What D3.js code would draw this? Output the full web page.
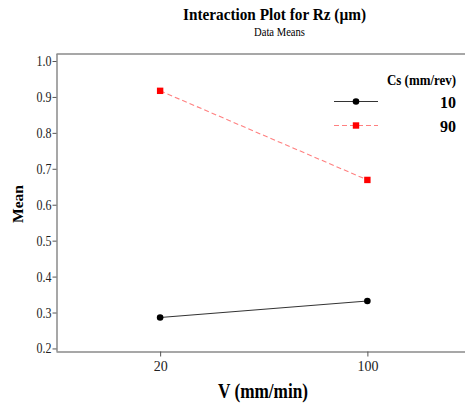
<!DOCTYPE html>
<html><head><meta charset="utf-8">
<script src="https://cdn.jsdelivr.net/npm/d3@7"></script>
<style>body{margin:0;background:#fff}svg{display:block}text{font-family:"Liberation Serif","Times New Roman",serif}</style>
</head><body>
<script>
const categories = ["20", "100"];
const seriesNames = ["10", "90"];
const series10 = [0.286, 0.332];
const series90 = [0.917, 0.669];
const yTicks = [0.2, 0.3, 0.4, 0.5, 0.6, 0.7, 0.8, 0.9, 1.0];

const W = 465, H = 405;
const svg = d3.select("body").append("svg").attr("width", W).attr("height", H);
const L = 56.5, R = 471, T = 54, B = 351.5;
const x = d3.scalePoint().domain(categories).range([L, R]).padding(0.5);
const y = d3.scaleLinear().domain([0.1915, 1.0195]).range([B, T]);

const gray = "#8a8a8a";
svg.append("line").attr("x1", L).attr("x2", W + 10).attr("y1", T).attr("y2", T).attr("stroke", gray).attr("stroke-width", 1.5);

const yAxis = svg.append("g").attr("transform", `translate(${L},0)`)
  .call(d3.axisLeft(y).tickValues(yTicks).tickFormat(d3.format(".1f")).tickSize(4).tickSizeOuter(0));
const xAxis = svg.append("g").attr("transform", `translate(0,${B})`)
  .call(d3.axisBottom(x).tickSize(5).tickSizeOuter(0));
xAxis.select(".domain").attr("d", `M${L},0.5H${W + 10}`);
yAxis.select(".domain").attr("d", `M0.5,${T}V${B}`);
[xAxis, yAxis].forEach(g => {
  g.select(".domain").attr("stroke", gray).attr("stroke-width", 1.5);
  g.selectAll(".tick line").attr("stroke", "#555");
  g.selectAll(".tick text").attr("fill", "#222").style("font-size", "14px").style("font-family", '"Liberation Serif",serif');
});
yAxis.selectAll(".tick text").attr("x", -5).attr("textLength", 15).attr("lengthAdjust", "spacingAndGlyphs");
xAxis.selectAll(".tick text").attr("y", 10);

const data = [
  {name: seriesNames[0], vals: series10, color: "#000", lineColor: "#333", dash: null, shape: "circle"},
  {name: seriesNames[1], vals: series90, color: "#ff0000", lineColor: "#ff8080", dash: "5,3", shape: "square"}
];
const line = d3.line().x((d, i) => x(categories[i])).y(d => y(d));
function marker(g, shape, cx, cy, color) {
  if (shape === "circle") g.append("circle").attr("cx", cx).attr("cy", cy).attr("r", 3.3).attr("fill", color);
  else g.append("rect").attr("x", cx - 3.2).attr("y", cy - 3.2).attr("width", 6.4).attr("height", 6.4).attr("fill", color);
}
data.forEach(s => {
  svg.append("path").attr("d", line(s.vals)).attr("fill", "none").attr("stroke", s.lineColor)
    .attr("stroke-width", 1.1).attr("stroke-dasharray", s.dash);
  s.vals.forEach((v, i) => marker(svg, s.shape, x(categories[i]), y(v), s.color));
});

function fit(t, len) { return t.attr("textLength", len).attr("lengthAdjust", "spacingAndGlyphs"); }

const lg = svg.append("g");
fit(lg.append("text").attr("x", 456).attr("y", 85).attr("text-anchor", "end").style("font-size", "14px").style("font-weight", "bold").text("Cs (mm/rev)"), 69);
data.forEach((s, i) => {
  const yy = 101.5 + i * 24;
  lg.append("line").attr("x1", 334).attr("x2", 378).attr("y1", yy).attr("y2", yy)
    .attr("stroke", s.lineColor).attr("stroke-width", 1.1).attr("stroke-dasharray", s.dash);
  marker(lg, s.shape, 356, yy, s.color);
  fit(lg.append("text").attr("x", 456).attr("y", yy + 6).attr("text-anchor", "end").style("font-size", "16px").style("font-weight", "bold").text(s.name), 16);
});

fit(svg.append("text").attr("x", 274.5).attr("y", 19.5).attr("text-anchor", "middle").style("font-size", "16px").style("font-weight", "bold").text("Interaction Plot for Rz (\u00b5m)"), 183);
fit(svg.append("text").attr("x", 279.5).attr("y", 36).attr("text-anchor", "middle").style("font-size", "13px").text("Data Means"), 51);
fit(svg.append("text").attr("transform", `translate(23,204) rotate(-90)`).attr("text-anchor", "middle").style("font-size", "15px").style("font-weight", "bold").text("Mean"), 38);
fit(svg.append("text").attr("x", 263).attr("y", 398).attr("text-anchor", "middle").style("font-size", "21px").style("font-weight", "bold").text("V (mm/min)"), 90);
</script>
</body></html>
